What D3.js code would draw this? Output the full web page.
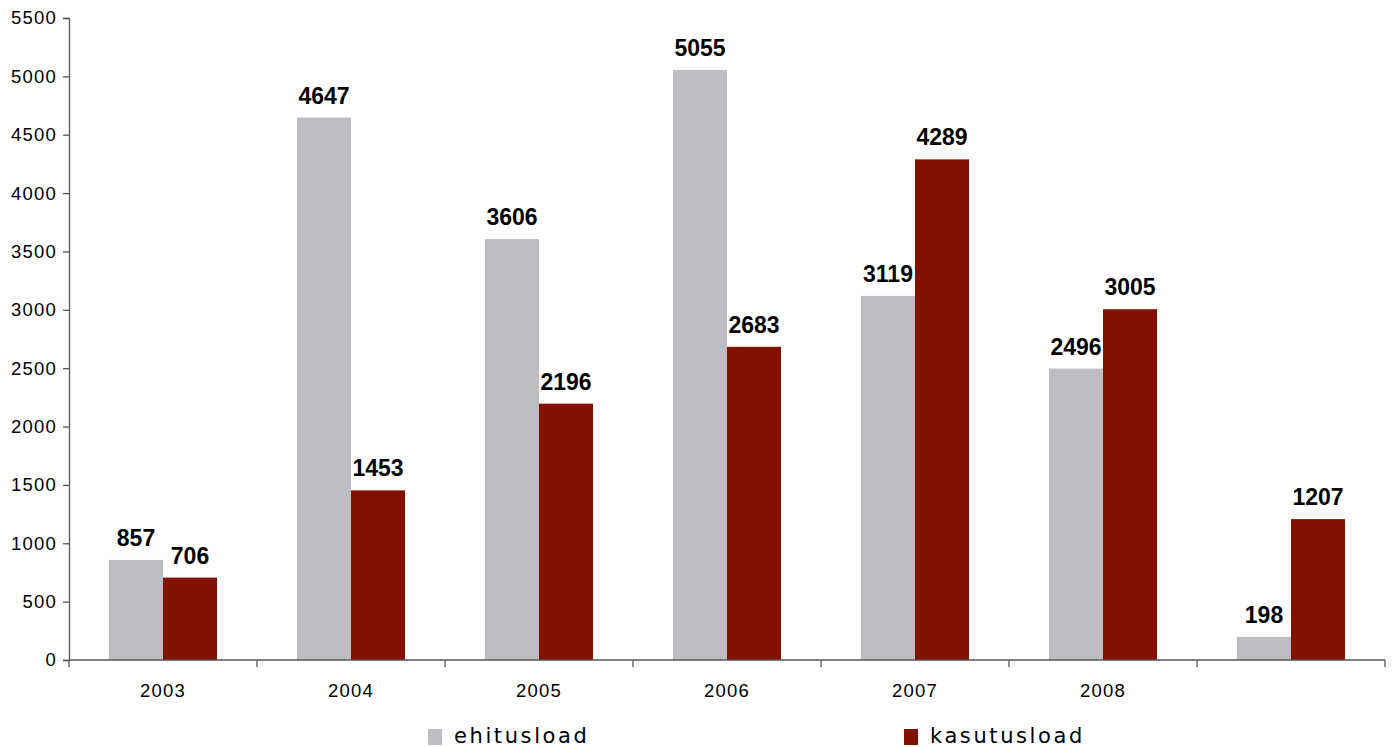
<!DOCTYPE html>
<html>
<head>
<meta charset="utf-8">
<script src="https://cdn.jsdelivr.net/npm/d3@7"></script>
<style>
  body { margin: 0; background: #fff; }
  .tick text { font-family: "Liberation Sans", Arial, sans-serif; font-size: 18.5px; letter-spacing: 1.2px; fill: #000; }
  .value { font-family: "Liberation Sans", Arial, sans-serif; font-size: 23px; font-weight: bold; fill: #000; }
  .legend text { font-family: "DejaVu Sans", sans-serif; font-size: 21px; letter-spacing: 2.6px; fill: #000; }
</style>
</head>
<body>
<svg id="chart" width="1392" height="747"></svg>
<script>
// years on the x axis, last group has no label
const years = ['2003', '2004', '2005', '2006', '2007', '2008', ''];
const ehitusload = [857, 4647, 3606, 5055, 3119, 2496, 198];
const kasutusload = [706, 1453, 2196, 2683, 4289, 3005, 1207];
const seriesNames = ['ehitusload', 'kasutusload'];
const colors = ['#bdbec2', '#821200'];
const yTicks = d3.range(0, 5501, 500);

const svg = d3.select('#chart');
const margin = { left: 69, right: 7, top: 18, bottom: 87 };
const width = 1392 - margin.left - margin.right;
const height = 747 - margin.top - margin.bottom;

const g = svg.append('g').attr('transform', `translate(${margin.left},${margin.top})`);

const x = d3.scaleBand().domain(d3.range(years.length)).range([0, width]).paddingInner(0).paddingOuter(0);
const inner = d3.scaleBand().domain(seriesNames).range([40, x.bandwidth() - 40]);
const y = d3.scaleLinear().domain([0, 5500]).range([height, 0]);

const rows = years.map((yr, i) => ({ i, values: [ehitusload[i], kasutusload[i]] }));

// bars
const groups = g.selectAll('.grp').data(rows).join('g')
  .attr('transform', d => `translate(${x(d.i)},0)`);

groups.selectAll('rect').data(d => d.values.map((v, k) => ({ k, v })))
  .join('rect')
  .attr('x', d => inner(seriesNames[d.k]))
  .attr('width', inner.bandwidth())
  .attr('y', d => y(d.v))
  .attr('height', d => height - y(d.v))
  .attr('fill', d => colors[d.k]);

groups.selectAll('text.value').data(d => d.values.map((v, k) => ({ k, v })))
  .join('text')
  .attr('class', 'value')
  .attr('x', d => inner(seriesNames[d.k]) + inner.bandwidth() / 2)
  .attr('y', d => y(d.v) - 14)
  .attr('text-anchor', 'middle')
  .text(d => d.v);

// y axis
const yAxis = g.append('g').call(d3.axisLeft(y).tickValues(yTicks).tickSize(6).tickPadding(6).tickFormat(d3.format('d')));
yAxis.select('.domain').attr('stroke', '#555').attr('stroke-width', 1.3);
yAxis.selectAll('.tick line').attr('stroke', '#555').attr('stroke-width', 1.3);

// x axis with ticks at group boundaries
const xAxis = g.append('g').attr('transform', `translate(0,${height})`);
xAxis.append('line').attr('x1', 0).attr('x2', width).attr('stroke', '#555').attr('stroke-width', 1.3);
xAxis.selectAll('line.tk').data(d3.range(years.length + 1)).join('line')
  .attr('class', 'tk')
  .attr('x1', d => d * x.step()).attr('x2', d => d * x.step())
  .attr('y1', 0).attr('y2', 7)
  .attr('stroke', '#555').attr('stroke-width', 1.3);
xAxis.selectAll('text').data(rows).join('text')
  .attr('class', 'tick')
  .attr('x', d => x(d.i) + x.bandwidth() / 2)
  .attr('y', 37)
  .attr('text-anchor', 'middle')
  .style('font-family', '"Liberation Sans", Arial, sans-serif')
  .style('font-size', '18.5px')
  .style('letter-spacing', '1.2px')
  .text(d => years[d.i]);

// legend
const legend = svg.append('g').attr('class', 'legend');
const legendX = [428, 904];
seriesNames.forEach((name, k) => {
  legend.append('rect').attr('x', legendX[k]).attr('y', 729).attr('width', 14).attr('height', 16).attr('fill', colors[k]);
  legend.append('text').attr('x', legendX[k] + 26).attr('y', 743).text(name);
});
</script>
</body>
</html>
